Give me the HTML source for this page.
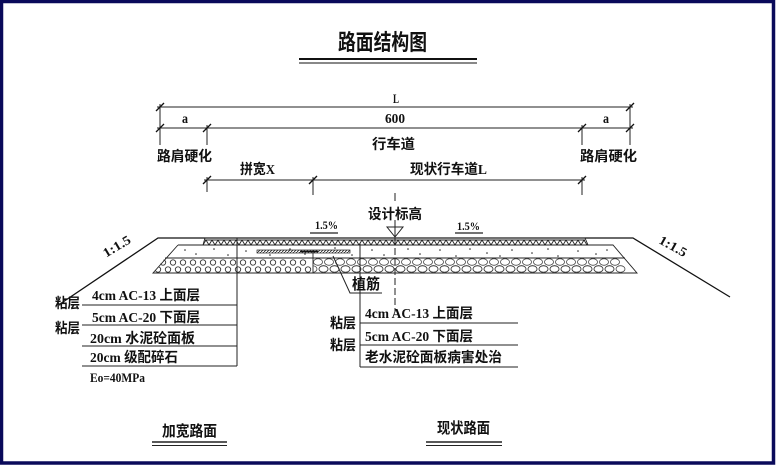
<!DOCTYPE html>
<html><head><meta charset="utf-8"><style>
html,body{margin:0;padding:0;background:#fff;}
svg{display:block;}
text{font-family:"Liberation Serif","Noto Sans CJK SC",serif;font-weight:bold;fill:#111;}
</style></head><body>
<svg width="777" height="465" viewBox="0 0 777 465" xmlns="http://www.w3.org/2000/svg">
<defs>
<clipPath id="cl"><polygon points="165,258 313,258 313,273 153,273"/></clipPath>
<clipPath id="cr"><polygon points="313,258 618,258 637,273 313,273"/></clipPath>
<clipPath id="ca"><polygon points="205,240 585,240 588,245 203,245"/></clipPath>
<pattern id="hatch" width="3" height="3" patternUnits="userSpaceOnUse"><path d="M0,3 L3,0" stroke="#222" stroke-width="0.8"/></pattern>
</defs>
<rect x="0" y="0" width="777" height="465" fill="#fff"/>
<rect x="1.5" y="1.5" width="772" height="461.5" fill="none" stroke="#0a0a5a" stroke-width="3.5"/>

<text x="338" y="50" font-size="22" textLength="89" lengthAdjust="spacingAndGlyphs">路面结构图</text>
<line x1="299" y1="59" x2="477" y2="59" stroke="#111" stroke-width="2"/>
<line x1="299" y1="63" x2="477" y2="63" stroke="#111" stroke-width="1"/>

<g stroke="#222" stroke-width="1" fill="none">
<line x1="157" y1="107" x2="633" y2="107"/>
<line x1="157" y1="128" x2="633" y2="128"/>
<line x1="204" y1="180" x2="585" y2="180"/>
<line x1="160" y1="104" x2="160" y2="145"/>
<line x1="207" y1="125" x2="207" y2="145"/>
<line x1="582" y1="125" x2="582" y2="145"/>
<line x1="630" y1="104" x2="630" y2="145"/>
<line x1="207" y1="177" x2="207" y2="192"/>
<line x1="313" y1="177" x2="313" y2="195"/>
<line x1="582" y1="177" x2="582" y2="195"/>
<line x1="395" y1="193" x2="395" y2="201"/>
</g>
<g stroke="#111" stroke-width="1.3">
<line x1="156" y1="111" x2="164" y2="103"/><line x1="626" y1="111" x2="634" y2="103"/>
<line x1="156" y1="132" x2="164" y2="124"/><line x1="203" y1="132" x2="211" y2="124"/>
<line x1="578" y1="132" x2="586" y2="124"/><line x1="626" y1="132" x2="634" y2="124"/>
<line x1="203" y1="184" x2="211" y2="176"/><line x1="309" y1="184" x2="317" y2="176"/>
<line x1="578" y1="184" x2="586" y2="176"/>
</g>
<text x="393" y="103" font-size="13" textLength="6" lengthAdjust="spacingAndGlyphs">L</text>
<text x="385" y="123" font-size="14" textLength="20" lengthAdjust="spacingAndGlyphs">600</text>
<text x="182" y="123" font-size="14" textLength="6" lengthAdjust="spacingAndGlyphs">a</text>
<text x="603" y="123" font-size="14" textLength="6" lengthAdjust="spacingAndGlyphs">a</text>
<text x="372" y="149" font-size="14" textLength="43" lengthAdjust="spacingAndGlyphs">行车道</text>
<text x="157" y="161" font-size="14" textLength="55" lengthAdjust="spacingAndGlyphs">路肩硬化</text>
<text x="580" y="161" font-size="14" textLength="57" lengthAdjust="spacingAndGlyphs">路肩硬化</text>
<text x="240" y="174" font-size="14" textLength="35" lengthAdjust="spacingAndGlyphs">拼宽X</text>
<text x="410" y="174" font-size="14" textLength="77" lengthAdjust="spacingAndGlyphs">现状行车道L</text>

<text x="368" y="219" font-size="14" textLength="54" lengthAdjust="spacingAndGlyphs">设计标高</text>
<polygon points="387,227 403,227 395,237" fill="#fff" stroke="#222" stroke-width="1"/>
<line x1="395" y1="220" x2="395" y2="237" stroke="#222" stroke-width="1"/>
<text x="315" y="229" font-size="12" textLength="23" lengthAdjust="spacingAndGlyphs">1.5%</text>
<line x1="310" y1="233" x2="338" y2="233" stroke="#222" stroke-width="1.2"/>
<text x="457" y="230" font-size="12" textLength="23" lengthAdjust="spacingAndGlyphs">1.5%</text>
<line x1="455" y1="233" x2="483" y2="233" stroke="#222" stroke-width="1.2"/>

<g stroke="#111" stroke-width="1.3" fill="none">
<polyline points="60,304 158,238 633,238 730,297"/>
</g>
<text font-size="13" transform="translate(119,250) rotate(-31)" text-anchor="middle" textLength="30" lengthAdjust="spacingAndGlyphs">1:1.5</text>
<text font-size="13" transform="translate(671,250) rotate(29)" text-anchor="middle" textLength="30" lengthAdjust="spacingAndGlyphs">1:1.5</text>

<g stroke="#222" stroke-width="0.9" fill="none">
<line x1="205" y1="240" x2="585" y2="240"/>
<polygon points="205,238 585,238 588,245 203,245"/>
<g clip-path="url(#ca)">
<path d="M203,245 l3,-5 l3,5 l3,-5 l3,5 l3,-5 l3,5 l3,-5 l3,5 l3,-5 l3,5 l3,-5 l3,5 l3,-5 l3,5 l3,-5 l3,5 l3,-5 l3,5 l3,-5 l3,5 l3,-5 l3,5 l3,-5 l3,5 l3,-5 l3,5 l3,-5 l3,5 l3,-5 l3,5 l3,-5 l3,5 l3,-5 l3,5 l3,-5 l3,5 l3,-5 l3,5 l3,-5 l3,5 l3,-5 l3,5 l3,-5 l3,5 l3,-5 l3,5 l3,-5 l3,5 l3,-5 l3,5 l3,-5 l3,5 l3,-5 l3,5 l3,-5 l3,5 l3,-5 l3,5 l3,-5 l3,5 l3,-5 l3,5 l3,-5 l3,5 l3,-5 l3,5 l3,-5 l3,5 l3,-5 l3,5 l3,-5 l3,5 l3,-5 l3,5 l3,-5 l3,5 l3,-5 l3,5 l3,-5 l3,5 l3,-5 l3,5 l3,-5 l3,5 l3,-5 l3,5 l3,-5 l3,5 l3,-5 l3,5 l3,-5 l3,5 l3,-5 l3,5 l3,-5 l3,5 l3,-5 l3,5 l3,-5 l3,5 l3,-5 l3,5 l3,-5 l3,5 l3,-5 l3,5 l3,-5 l3,5 l3,-5 l3,5 l3,-5 l3,5 l3,-5 l3,5 l3,-5 l3,5 l3,-5 l3,5 l3,-5 l3,5 l3,-5 l3,5 l3,-5 l3,5 l3,-5 l3,5 l3,-5 l3,5 l3,-5 l3,5 l3,-5 l3,5 l3,-5 l3,5 l3,-5 l3,5 l3,-5 l3,5 l3,-5 l3,5 l3,-5 l3,5 l3,-5 l3,5 l3,-5 l3,5 l3,-5 l3,5 l3,-5 l3,5 l3,-5 l3,5 l3,-5 l3,5 l3,-5 l3,5 l3,-5 l3,5 l3,-5 l3,5"/>
</g>
<polyline points="178,245 613,245 637,273 153,273 178,245"/>
<line x1="165" y1="258" x2="625" y2="258"/>
<line x1="313" y1="250" x2="313" y2="273"/>
</g>
<g fill="#222">
<circle cx="185" cy="250" r="0.8"/><circle cx="196" cy="254" r="0.8"/><circle cx="214" cy="249" r="0.8"/><circle cx="228" cy="255" r="0.8"/><circle cx="246" cy="251" r="0.8"/><circle cx="270" cy="255" r="0.8"/><circle cx="290" cy="249" r="0.8"/><circle cx="305" cy="254" r="0.8"/><circle cx="335" cy="248" r="0.8"/><circle cx="352" cy="255" r="0.8"/><circle cx="372" cy="250" r="0.8"/><circle cx="384" cy="255" r="0.8"/><circle cx="408" cy="249" r="0.8"/><circle cx="420" cy="254" r="0.8"/><circle cx="440" cy="250" r="0.8"/><circle cx="456" cy="256" r="0.8"/><circle cx="470" cy="249" r="0.8"/><circle cx="487" cy="253" r="0.8"/><circle cx="500" cy="256" r="0.8"/><circle cx="512" cy="250" r="0.8"/><circle cx="532" cy="253" r="0.8"/><circle cx="548" cy="249" r="0.8"/><circle cx="558" cy="256" r="0.8"/><circle cx="578" cy="251" r="0.8"/><circle cx="596" cy="254" r="0.8"/><circle cx="607" cy="250" r="0.8"/>
</g>
<rect x="257" y="250" width="93" height="3" fill="url(#hatch)" stroke="#222" stroke-width="0.7"/>
<line x1="300" y1="251.5" x2="318" y2="251.5" stroke="#111" stroke-width="1.5"/>
<g clip-path="url(#cl)" fill="none" stroke="#333" stroke-width="0.9">
<circle cx="163" cy="262.5" r="2.7"/><circle cx="173" cy="262.5" r="2.7"/><circle cx="183" cy="262.5" r="2.7"/><circle cx="193" cy="262.5" r="2.7"/><circle cx="203" cy="262.5" r="2.7"/><circle cx="213" cy="262.5" r="2.7"/><circle cx="223" cy="262.5" r="2.7"/><circle cx="233" cy="262.5" r="2.7"/><circle cx="243" cy="262.5" r="2.7"/><circle cx="253" cy="262.5" r="2.7"/><circle cx="263" cy="262.5" r="2.7"/><circle cx="273" cy="262.5" r="2.7"/><circle cx="283" cy="262.5" r="2.7"/><circle cx="293" cy="262.5" r="2.7"/><circle cx="303" cy="262.5" r="2.7"/>
<circle cx="158" cy="269.5" r="2.7"/><circle cx="168" cy="269.5" r="2.7"/><circle cx="178" cy="269.5" r="2.7"/><circle cx="188" cy="269.5" r="2.7"/><circle cx="198" cy="269.5" r="2.7"/><circle cx="208" cy="269.5" r="2.7"/><circle cx="218" cy="269.5" r="2.7"/><circle cx="228" cy="269.5" r="2.7"/><circle cx="238" cy="269.5" r="2.7"/><circle cx="248" cy="269.5" r="2.7"/><circle cx="258" cy="269.5" r="2.7"/><circle cx="268" cy="269.5" r="2.7"/><circle cx="278" cy="269.5" r="2.7"/><circle cx="288" cy="269.5" r="2.7"/><circle cx="298" cy="269.5" r="2.7"/><circle cx="308" cy="269.5" r="2.7"/>
</g>
<g clip-path="url(#cr)" fill="none" stroke="#444" stroke-width="0.8">
<g id="r1">
<ellipse cx="318" cy="262" rx="4.5" ry="3.3"/><ellipse cx="329" cy="262" rx="4.5" ry="3.3"/><ellipse cx="340" cy="262" rx="4.5" ry="3.3"/><ellipse cx="351" cy="262" rx="4.5" ry="3.3"/><ellipse cx="362" cy="262" rx="4.5" ry="3.3"/><ellipse cx="373" cy="262" rx="4.5" ry="3.3"/><ellipse cx="384" cy="262" rx="4.5" ry="3.3"/><ellipse cx="395" cy="262" rx="4.5" ry="3.3"/><ellipse cx="406" cy="262" rx="4.5" ry="3.3"/><ellipse cx="417" cy="262" rx="4.5" ry="3.3"/><ellipse cx="428" cy="262" rx="4.5" ry="3.3"/><ellipse cx="439" cy="262" rx="4.5" ry="3.3"/><ellipse cx="450" cy="262" rx="4.5" ry="3.3"/><ellipse cx="461" cy="262" rx="4.5" ry="3.3"/><ellipse cx="472" cy="262" rx="4.5" ry="3.3"/><ellipse cx="483" cy="262" rx="4.5" ry="3.3"/><ellipse cx="494" cy="262" rx="4.5" ry="3.3"/><ellipse cx="505" cy="262" rx="4.5" ry="3.3"/><ellipse cx="516" cy="262" rx="4.5" ry="3.3"/><ellipse cx="527" cy="262" rx="4.5" ry="3.3"/><ellipse cx="538" cy="262" rx="4.5" ry="3.3"/><ellipse cx="549" cy="262" rx="4.5" ry="3.3"/><ellipse cx="560" cy="262" rx="4.5" ry="3.3"/><ellipse cx="571" cy="262" rx="4.5" ry="3.3"/><ellipse cx="582" cy="262" rx="4.5" ry="3.3"/><ellipse cx="593" cy="262" rx="4.5" ry="3.3"/><ellipse cx="604" cy="262" rx="4.5" ry="3.3"/><ellipse cx="615" cy="262" rx="4.5" ry="3.3"/>
</g>
<g transform="translate(5.5,7)"><use href="#r1"/></g>
<g transform="translate(-5.5,7)"><use href="#r1"/></g>
</g>

<g stroke="#222" stroke-width="1" fill="none">
<line x1="237" y1="238" x2="237" y2="366"/>
<line x1="360" y1="243" x2="360" y2="367"/>
<line x1="395" y1="238" x2="395" y2="312" stroke-dasharray="7,3"/>
<polyline points="333,256 350,293 382,293"/>
<line x1="82" y1="305" x2="237" y2="305"/>
<line x1="82" y1="325" x2="237" y2="325"/>
<line x1="82" y1="346" x2="237" y2="346"/>
<line x1="82" y1="366" x2="237" y2="366"/>
<line x1="360" y1="323" x2="518" y2="323"/>
<line x1="360" y1="345" x2="518" y2="345"/>
<line x1="360" y1="367" x2="518" y2="367"/>
</g>
<text x="352" y="289" font-size="15" textLength="28" lengthAdjust="spacingAndGlyphs">植筋</text>

<text x="55" y="308" font-size="14" textLength="25" lengthAdjust="spacingAndGlyphs">粘层</text>
<text x="55" y="333" font-size="14" textLength="25" lengthAdjust="spacingAndGlyphs">粘层</text>
<text x="92" y="300" font-size="14" textLength="108" lengthAdjust="spacingAndGlyphs">4cm AC-13 上面层</text>
<text x="92" y="322" font-size="14" textLength="108" lengthAdjust="spacingAndGlyphs">5cm AC-20 下面层</text>
<text x="90" y="343" font-size="14" textLength="105" lengthAdjust="spacingAndGlyphs">20cm 水泥砼面板</text>
<text x="90" y="362" font-size="14" textLength="88" lengthAdjust="spacingAndGlyphs">20cm 级配碎石</text>
<text x="90" y="382" font-size="13" textLength="55" lengthAdjust="spacingAndGlyphs">Eo=40MPa</text>

<text x="330" y="328" font-size="14" textLength="26" lengthAdjust="spacingAndGlyphs">粘层</text>
<text x="330" y="350" font-size="14" textLength="26" lengthAdjust="spacingAndGlyphs">粘层</text>
<text x="365" y="318" font-size="14" textLength="108" lengthAdjust="spacingAndGlyphs">4cm AC-13 上面层</text>
<text x="365" y="341" font-size="14" textLength="108" lengthAdjust="spacingAndGlyphs">5cm AC-20 下面层</text>
<text x="365" y="362" font-size="14" textLength="137" lengthAdjust="spacingAndGlyphs">老水泥砼面板病害处治</text>

<text x="162" y="436" font-size="15" textLength="55" lengthAdjust="spacingAndGlyphs">加宽路面</text>
<line x1="152" y1="442" x2="227" y2="442" stroke="#222" stroke-width="1.5"/>
<line x1="152" y1="445.5" x2="227" y2="445.5" stroke="#222" stroke-width="1"/>
<text x="437" y="433" font-size="15" textLength="53" lengthAdjust="spacingAndGlyphs">现状路面</text>
<line x1="426" y1="442" x2="502" y2="442" stroke="#222" stroke-width="1.5"/>
<line x1="426" y1="445.5" x2="502" y2="445.5" stroke="#222" stroke-width="1"/>
</svg>
</body></html>
